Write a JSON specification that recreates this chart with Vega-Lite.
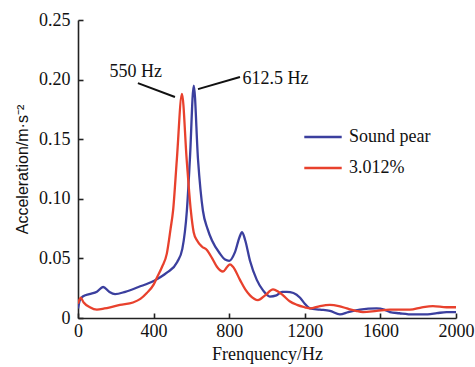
{
  "$schema": "https://vega.github.io/schema/vega-lite/v6.json",
  "width": 378,
  "height": 298,
  "autosize": {"type": "none"},
  "padding": {"left": 78, "top": 20, "right": 19, "bottom": 49},
  "background": "white",
  "config": {
    "view": {"stroke": null},
    "font": "Liberation Serif",
    "axis": {
      "grid": false,
      "domainColor": "#222",
      "domainWidth": 1.6,
      "tickColor": "#222",
      "tickWidth": 1.6,
      "labelFont": "Liberation Serif",
      "labelFontSize": 18,
      "labelColor": "#111",
      "titleFont": "Liberation Serif",
      "titleFontSize": 18,
      "titleFontWeight": "normal",
      "titleColor": "#111"
    }
  },
  "datasets": {
    "spectra": [
      {"series": "Sound pear", "f": 0, "a": 0.008},
      {"series": "Sound pear", "f": 10, "a": 0.015},
      {"series": "Sound pear", "f": 25, "a": 0.018},
      {"series": "Sound pear", "f": 60, "a": 0.020},
      {"series": "Sound pear", "f": 100, "a": 0.022},
      {"series": "Sound pear", "f": 133, "a": 0.026},
      {"series": "Sound pear", "f": 165, "a": 0.022},
      {"series": "Sound pear", "f": 196, "a": 0.020},
      {"series": "Sound pear", "f": 250, "a": 0.022},
      {"series": "Sound pear", "f": 320, "a": 0.026},
      {"series": "Sound pear", "f": 400, "a": 0.031},
      {"series": "Sound pear", "f": 470, "a": 0.038},
      {"series": "Sound pear", "f": 525, "a": 0.047},
      {"series": "Sound pear", "f": 552, "a": 0.058},
      {"series": "Sound pear", "f": 576, "a": 0.090},
      {"series": "Sound pear", "f": 592, "a": 0.133},
      {"series": "Sound pear", "f": 612.5, "a": 0.195},
      {"series": "Sound pear", "f": 635, "a": 0.133},
      {"series": "Sound pear", "f": 661, "a": 0.090},
      {"series": "Sound pear", "f": 685, "a": 0.075},
      {"series": "Sound pear", "f": 709, "a": 0.065},
      {"series": "Sound pear", "f": 751, "a": 0.054},
      {"series": "Sound pear", "f": 778, "a": 0.049},
      {"series": "Sound pear", "f": 800, "a": 0.048},
      {"series": "Sound pear", "f": 830, "a": 0.055},
      {"series": "Sound pear", "f": 855, "a": 0.068},
      {"series": "Sound pear", "f": 868, "a": 0.072},
      {"series": "Sound pear", "f": 885, "a": 0.065},
      {"series": "Sound pear", "f": 910, "a": 0.048},
      {"series": "Sound pear", "f": 946, "a": 0.032},
      {"series": "Sound pear", "f": 980, "a": 0.023},
      {"series": "Sound pear", "f": 1015, "a": 0.018},
      {"series": "Sound pear", "f": 1050, "a": 0.019},
      {"series": "Sound pear", "f": 1080, "a": 0.022},
      {"series": "Sound pear", "f": 1105, "a": 0.022},
      {"series": "Sound pear", "f": 1140, "a": 0.021},
      {"series": "Sound pear", "f": 1175, "a": 0.017},
      {"series": "Sound pear", "f": 1200, "a": 0.012},
      {"series": "Sound pear", "f": 1227, "a": 0.008},
      {"series": "Sound pear", "f": 1280, "a": 0.007},
      {"series": "Sound pear", "f": 1333, "a": 0.006},
      {"series": "Sound pear", "f": 1386, "a": 0.003},
      {"series": "Sound pear", "f": 1430, "a": 0.005},
      {"series": "Sound pear", "f": 1492, "a": 0.007},
      {"series": "Sound pear", "f": 1580, "a": 0.008},
      {"series": "Sound pear", "f": 1620, "a": 0.007},
      {"series": "Sound pear", "f": 1650, "a": 0.005},
      {"series": "Sound pear", "f": 1700, "a": 0.004},
      {"series": "Sound pear", "f": 1772, "a": 0.003},
      {"series": "Sound pear", "f": 1850, "a": 0.003},
      {"series": "Sound pear", "f": 1899, "a": 0.004},
      {"series": "Sound pear", "f": 1950, "a": 0.005},
      {"series": "Sound pear", "f": 2000, "a": 0.005},
      {"series": "3.012%", "f": 0, "a": 0.012},
      {"series": "3.012%", "f": 14, "a": 0.017},
      {"series": "3.012%", "f": 30, "a": 0.013},
      {"series": "3.012%", "f": 63, "a": 0.009},
      {"series": "3.012%", "f": 100, "a": 0.007},
      {"series": "3.012%", "f": 140, "a": 0.008},
      {"series": "3.012%", "f": 170, "a": 0.009},
      {"series": "3.012%", "f": 222, "a": 0.011},
      {"series": "3.012%", "f": 291, "a": 0.013},
      {"series": "3.012%", "f": 330, "a": 0.016},
      {"series": "3.012%", "f": 364, "a": 0.021},
      {"series": "3.012%", "f": 400, "a": 0.028},
      {"series": "3.012%", "f": 418, "a": 0.034},
      {"series": "3.012%", "f": 445, "a": 0.043},
      {"series": "3.012%", "f": 470, "a": 0.054},
      {"series": "3.012%", "f": 490, "a": 0.075},
      {"series": "3.012%", "f": 503, "a": 0.090},
      {"series": "3.012%", "f": 523, "a": 0.133},
      {"series": "3.012%", "f": 550, "a": 0.188},
      {"series": "3.012%", "f": 575, "a": 0.133},
      {"series": "3.012%", "f": 597, "a": 0.090},
      {"series": "3.012%", "f": 612, "a": 0.072},
      {"series": "3.012%", "f": 630, "a": 0.065},
      {"series": "3.012%", "f": 655, "a": 0.060},
      {"series": "3.012%", "f": 682, "a": 0.057},
      {"series": "3.012%", "f": 710, "a": 0.050},
      {"series": "3.012%", "f": 735, "a": 0.043},
      {"series": "3.012%", "f": 767, "a": 0.039},
      {"series": "3.012%", "f": 790, "a": 0.043},
      {"series": "3.012%", "f": 804, "a": 0.045},
      {"series": "3.012%", "f": 820, "a": 0.043},
      {"series": "3.012%", "f": 857, "a": 0.032},
      {"series": "3.012%", "f": 885, "a": 0.024},
      {"series": "3.012%", "f": 910, "a": 0.019},
      {"series": "3.012%", "f": 952, "a": 0.015},
      {"series": "3.012%", "f": 990, "a": 0.019},
      {"series": "3.012%", "f": 1032, "a": 0.024},
      {"series": "3.012%", "f": 1060, "a": 0.022},
      {"series": "3.012%", "f": 1085, "a": 0.019},
      {"series": "3.012%", "f": 1120, "a": 0.014},
      {"series": "3.012%", "f": 1159, "a": 0.011},
      {"series": "3.012%", "f": 1200, "a": 0.009},
      {"series": "3.012%", "f": 1227, "a": 0.008},
      {"series": "3.012%", "f": 1280, "a": 0.010},
      {"series": "3.012%", "f": 1333, "a": 0.011},
      {"series": "3.012%", "f": 1380, "a": 0.010},
      {"series": "3.012%", "f": 1423, "a": 0.008},
      {"series": "3.012%", "f": 1470, "a": 0.006},
      {"series": "3.012%", "f": 1508, "a": 0.005},
      {"series": "3.012%", "f": 1580, "a": 0.006},
      {"series": "3.012%", "f": 1650, "a": 0.007},
      {"series": "3.012%", "f": 1756, "a": 0.007},
      {"series": "3.012%", "f": 1820, "a": 0.009},
      {"series": "3.012%", "f": 1878, "a": 0.010},
      {"series": "3.012%", "f": 1950, "a": 0.009},
      {"series": "3.012%", "f": 2000, "a": 0.009}
    ],
    "peakLabels": [
      {"label": "550 Hz", "f": 305, "a": 0.2065},
      {"label": "612.5 Hz", "f": 1045, "a": 0.2005}
    ],
    "leaders": [
      {"f": 317, "a": 0.197, "f2": 513, "a2": 0.1854},
      {"f": 635, "a": 0.192, "f2": 857, "a2": 0.2022}
    ]
  },
  "layer": [
    {
      "data": {"name": "spectra"},
      "mark": {"type": "line", "interpolate": "monotone", "strokeWidth": 2.3, "clip": true},
      "encoding": {
        "x": {
          "field": "f", "type": "quantitative",
          "scale": {"domain": [0, 2000], "nice": false},
          "axis": {
            "title": "Frenquency/Hz",
            "values": [0, 400, 800, 1200, 1600, 2000],
            "format": "d",
            "tickSize": -5,
            "labelPadding": 9,
            "titlePadding": 5,
            "labelFlush": false
          }
        },
        "y": {
          "field": "a", "type": "quantitative",
          "scale": {"domain": [0, 0.25], "nice": false},
          "axis": {
            "title": "Acceleration/m·s⁻²",
            "titleFont": "Liberation Sans",
            "titleFontSize": 16,
            "values": [0, 0.05, 0.1, 0.15, 0.2, 0.25],
            "labelExpr": "datum.value == 0 ? '0' : format(datum.value, '.2f')",
            "tickSize": -5,
            "labelPadding": 13,
            "titlePadding": 8
          }
        },
        "color": {
          "field": "series", "type": "nominal",
          "scale": {"domain": ["Sound pear", "3.012%"], "range": ["#3b3f9e", "#e8412d"]},
          "legend": {
            "title": null,
            "orient": "none",
            "legendX": 225,
            "legendY": 97,
            "symbolType": "stroke",
            "symbolSize": 1400,
            "symbolStrokeWidth": 2.5,
            "labelFont": "Liberation Serif",
            "labelFontSize": 18,
            "labelColor": "#111",
            "labelOffset": 6,
            "rowPadding": 2
          }
        }
      }
    },
    {
      "data": {"name": "leaders"},
      "mark": {"type": "rule", "color": "#111", "strokeWidth": 2},
      "encoding": {
        "x": {"field": "f", "type": "quantitative"},
        "y": {"field": "a", "type": "quantitative"},
        "x2": {"field": "f2"},
        "y2": {"field": "a2"}
      }
    },
    {
      "data": {"name": "peakLabels"},
      "mark": {"type": "text", "font": "Liberation Serif", "fontSize": 18, "color": "#111", "align": "center", "baseline": "middle"},
      "encoding": {
        "x": {"field": "f", "type": "quantitative"},
        "y": {"field": "a", "type": "quantitative"},
        "text": {"field": "label"}
      }
    }
  ]
}
